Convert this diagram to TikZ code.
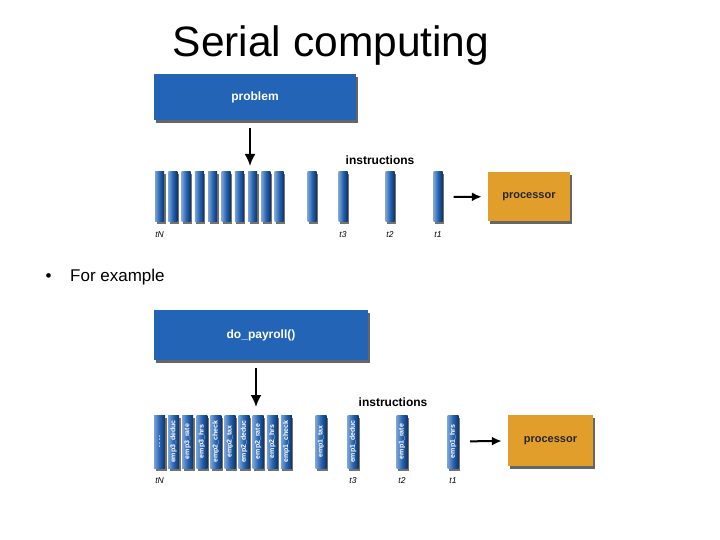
\documentclass[tikz,border=0pt]{standalone}
\usepackage{fontspec}
\setmainfont{Liberation Sans}
\usepackage{xcolor}
\usetikzlibrary{arrows.meta, shadows, positioning}
\definecolor{jobblue}{RGB}{36,100,182}
\definecolor{cpuorange}{RGB}{226,158,42}
\newcommand{\bardots}{.\,.\,.\,.}

\begin{document}
\begin{tikzpicture}[x=1pt, y=-1pt,
    job/.style={rectangle, fill=jobblue, inner sep=0pt, text=white, font=\fontsize{12}{14}\selectfont\bfseries,
      drop shadow={shadow xshift=2pt, shadow yshift=-3pt, fill=black, opacity=0.6}},
    cpu/.style={rectangle, fill=cpuorange, inner sep=0pt, text=black!85, font=\fontsize{11}{13}\selectfont\bfseries,
      drop shadow={shadow xshift=2pt, shadow yshift=-3pt, fill=black, opacity=0.6}},
    ibar/.style={rectangle, inner sep=0pt, minimum width=9pt, minimum height=50pt,
      left color=jobblue!60!white, right color=jobblue!50!black, middle color=jobblue,
      drop shadow={shadow xshift=1.5pt, shadow yshift=-2.5pt, fill=black, opacity=0.55}},
    wbar/.style={ibar, minimum width=11pt, minimum height=53pt, text=white, font=\fontsize{7}{8}\selectfont\bfseries},
    tlabel/.style={font=\fontsize{8.5}{10}\selectfont\itshape, text=black, inner sep=0pt},
    flow/.style={draw, line width=2.2pt, -{Latex[length=12pt, width=11pt]}}
  ]
  \useasboundingbox (0,0) rectangle (720,540);

  % --- TITLE AND BULLET ---
  \node[font=\fontsize{42.5}{48}\selectfont, anchor=base] (title) at (331,57) {Serial computing};
  \node[font=\fontsize{17}{20}\selectfont, anchor=base west] (bullet) at (42,281.5) {\textbullet};
  \node[font=\fontsize{17}{20}\selectfont, anchor=base west, inner sep=0pt] (example) at (70,281.5) {For example};

  % --- TOP: GENERIC PROBLEM ---
  \node[job, minimum width=202pt, minimum height=46pt] (problem) at (255,97) {problem};
  \coordinate (tdown) at (250,166);
  \draw[flow, shorten <=8pt] (problem.south -| tdown) -- (tdown);
  \node[font=\fontsize{12}{14}\selectfont\bfseries] (tinstr) at (380,160) {instructions};

  \foreach \i in {0,...,9}
    \node[ibar] (tb\i) at ({159.5+13.3*\i},197) {};
  \node[ibar] (tb10) at (312,197) {};
  \node[ibar] (tt3) at (343,197) {};
  \node[ibar] (tt2) at (390,197) {};
  \node[ibar] (tt1) at (438,197) {};

  \node[tlabel, below=9pt of tb0] {tN};
  \node[tlabel, below=9pt of tt3] {t3};
  \node[tlabel, below=9pt of tt2] {t2};
  \node[tlabel, below=9pt of tt1] {t1};

  \node[cpu, minimum width=82pt, minimum height=49pt] (tproc) at (529,196.5) {processor};
  \draw[flow, line width=2pt, -{Latex[length=10pt, width=9pt]}, shorten <=11pt, shorten >=6pt] (tt1) -- (tproc);

  % --- BOTTOM: PAYROLL EXAMPLE ---
  \node[job, minimum width=214pt, minimum height=50pt] (payroll) at (261,335) {do\_payroll()};
  \coordinate (bdown) at (256,407);
  \draw[flow, shorten <=8pt] (payroll.south -| bdown) -- (bdown);
  \node[font=\fontsize{12}{14}\selectfont\bfseries] (binstr) at (393,402) {instructions};

  \foreach \lab [count=\i from 0] in {\bardots,emp3\_deduc,emp3\_rate,emp3\_hrs,emp2\_check,emp2\_tax,emp2\_deduc,emp2\_rate,emp2\_hrs,emp1\_check}
    \node[wbar] (bb\i) at ({159.5+14.1*\i},441.5) {\rotatebox{90}{\lab}};
  \node[wbar] (bb10) at (321,441.5) {\rotatebox{90}{emp1\_tax}};
  \node[wbar] (bt3) at (353,441.5) {\rotatebox{90}{emp1\_deduc}};
  \node[wbar] (bt2) at (402,441.5) {\rotatebox{90}{emp1\_rate}};
  \node[wbar] (bt1) at (453,441.5) {\rotatebox{90}{emp1\_hrs}};

  \node[tlabel, below=9pt of bb0] {tN};
  \node[tlabel, below=9pt of bt3] {t3};
  \node[tlabel, below=9pt of bt2] {t2};
  \node[tlabel, below=9pt of bt1] {t1};

  \node[cpu, minimum width=85pt, minimum height=51pt] (bproc) at (550.5,440.5) {processor};
  \draw[flow, line width=2pt, -{Latex[length=10pt, width=9pt]}, shorten <=11.5pt, shorten >=6pt] (bt1) -- (bproc);
\end{tikzpicture}
\end{document}
